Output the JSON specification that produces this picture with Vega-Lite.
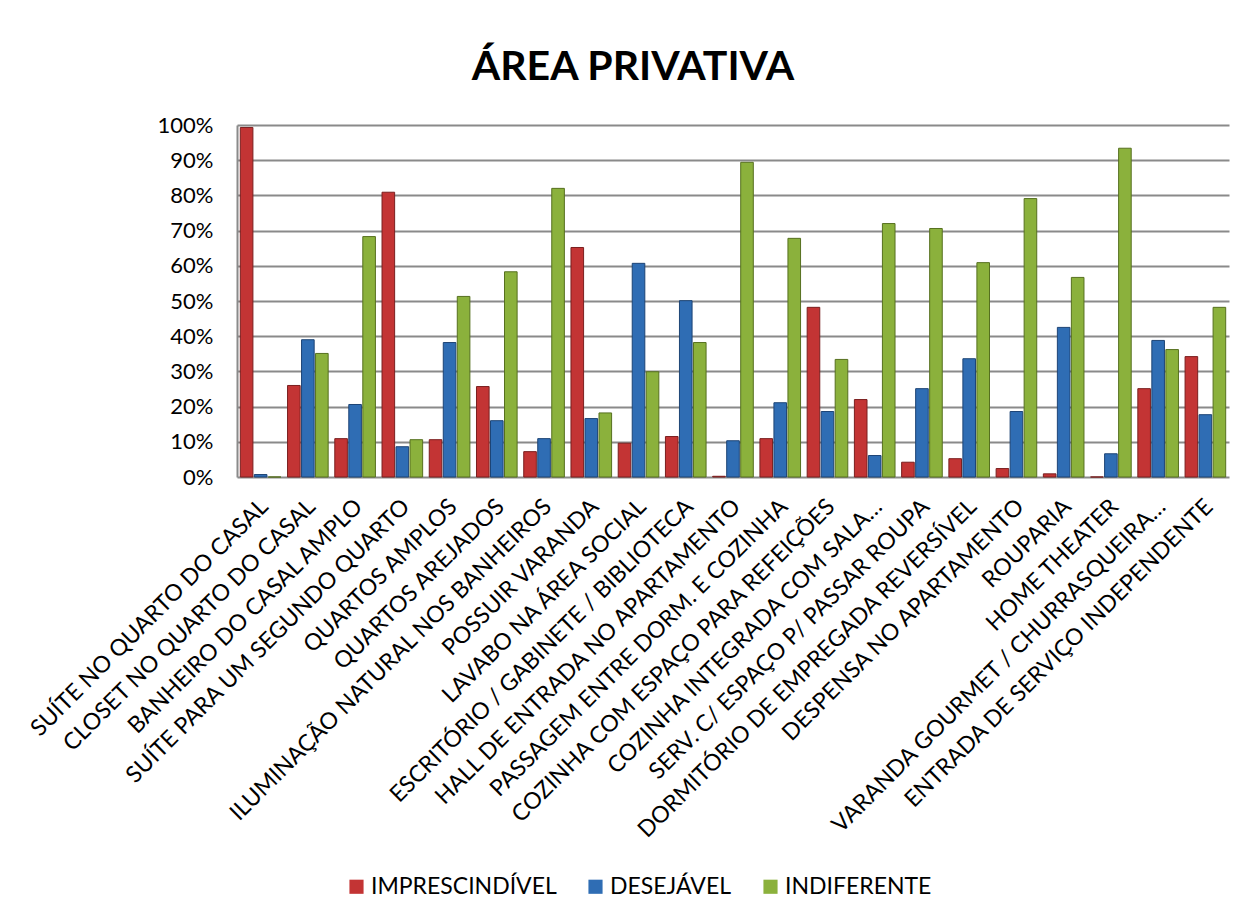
{
  "$schema": "https://vega.github.io/schema/vega-lite/v6.json",
  "autosize": {"type": "none"},
  "padding": {"left": 237, "top": 125, "right": 19, "bottom": 442},
  "width": 992,
  "height": 352,
  "background": "white",
  "title": {
    "text": "ÁREA PRIVATIVA",
    "font": "Lato",
    "fontSize": 41,
    "fontWeight": "bold",
    "color": "black",
    "anchor": "middle",
    "offset": 25,
    "dx": -100
  },
  "data": {
    "values": [
      {"item": "SUÍTE NO QUARTO DO CASAL", "serie": "IMPRESCINDÍVEL", "v": 0.993},
      {"item": "SUÍTE NO QUARTO DO CASAL", "serie": "DESEJÁVEL", "v": 0.007},
      {"item": "SUÍTE NO QUARTO DO CASAL", "serie": "INDIFERENTE", "v": 0.0},
      {"item": "CLOSET NO QUARTO DO CASAL", "serie": "IMPRESCINDÍVEL", "v": 0.26},
      {"item": "CLOSET NO QUARTO DO CASAL", "serie": "DESEJÁVEL", "v": 0.39},
      {"item": "CLOSET NO QUARTO DO CASAL", "serie": "INDIFERENTE", "v": 0.351},
      {"item": "BANHEIRO DO CASAL AMPLO", "serie": "IMPRESCINDÍVEL", "v": 0.109},
      {"item": "BANHEIRO DO CASAL AMPLO", "serie": "DESEJÁVEL", "v": 0.206},
      {"item": "BANHEIRO DO CASAL AMPLO", "serie": "INDIFERENTE", "v": 0.683},
      {"item": "SUÍTE PARA UM SEGUNDO QUARTO", "serie": "IMPRESCINDÍVEL", "v": 0.809},
      {"item": "SUÍTE PARA UM SEGUNDO QUARTO", "serie": "DESEJÁVEL", "v": 0.086},
      {"item": "SUÍTE PARA UM SEGUNDO QUARTO", "serie": "INDIFERENTE", "v": 0.106},
      {"item": "QUARTOS AMPLOS", "serie": "IMPRESCINDÍVEL", "v": 0.106},
      {"item": "QUARTOS AMPLOS", "serie": "DESEJÁVEL", "v": 0.382},
      {"item": "QUARTOS AMPLOS", "serie": "INDIFERENTE", "v": 0.513},
      {"item": "QUARTOS AREJADOS", "serie": "IMPRESCINDÍVEL", "v": 0.257},
      {"item": "QUARTOS AREJADOS", "serie": "DESEJÁVEL", "v": 0.16},
      {"item": "QUARTOS AREJADOS", "serie": "INDIFERENTE", "v": 0.583},
      {"item": "ILUMINAÇÃO NATURAL NOS BANHEIROS", "serie": "IMPRESCINDÍVEL", "v": 0.072},
      {"item": "ILUMINAÇÃO NATURAL NOS BANHEIROS", "serie": "DESEJÁVEL", "v": 0.109},
      {"item": "ILUMINAÇÃO NATURAL NOS BANHEIROS", "serie": "INDIFERENTE", "v": 0.82},
      {"item": "POSSUIR VARANDA", "serie": "IMPRESCINDÍVEL", "v": 0.652},
      {"item": "POSSUIR VARANDA", "serie": "DESEJÁVEL", "v": 0.166},
      {"item": "POSSUIR VARANDA", "serie": "INDIFERENTE", "v": 0.182},
      {"item": "LAVABO NA ÁREA SOCIAL", "serie": "IMPRESCINDÍVEL", "v": 0.096},
      {"item": "LAVABO NA ÁREA SOCIAL", "serie": "DESEJÁVEL", "v": 0.607},
      {"item": "LAVABO NA ÁREA SOCIAL", "serie": "INDIFERENTE", "v": 0.299},
      {"item": "ESCRITÓRIO / GABINETE / BIBLIOTECA", "serie": "IMPRESCINDÍVEL", "v": 0.115},
      {"item": "ESCRITÓRIO / GABINETE / BIBLIOTECA", "serie": "DESEJÁVEL", "v": 0.501},
      {"item": "ESCRITÓRIO / GABINETE / BIBLIOTECA", "serie": "INDIFERENTE", "v": 0.382},
      {"item": "HALL DE ENTRADA NO APARTAMENTO", "serie": "IMPRESCINDÍVEL", "v": 0.002},
      {"item": "HALL DE ENTRADA NO APARTAMENTO", "serie": "DESEJÁVEL", "v": 0.103},
      {"item": "HALL DE ENTRADA NO APARTAMENTO", "serie": "INDIFERENTE", "v": 0.894},
      {"item": "PASSAGEM ENTRE DORM. E COZINHA", "serie": "IMPRESCINDÍVEL", "v": 0.109},
      {"item": "PASSAGEM ENTRE DORM. E COZINHA", "serie": "DESEJÁVEL", "v": 0.211},
      {"item": "PASSAGEM ENTRE DORM. E COZINHA", "serie": "INDIFERENTE", "v": 0.678},
      {"item": "COZINHA COM ESPAÇO PARA REFEIÇÕES", "serie": "IMPRESCINDÍVEL", "v": 0.482},
      {"item": "COZINHA COM ESPAÇO PARA REFEIÇÕES", "serie": "DESEJÁVEL", "v": 0.186},
      {"item": "COZINHA COM ESPAÇO PARA REFEIÇÕES", "serie": "INDIFERENTE", "v": 0.334},
      {"item": "COZINHA INTEGRADA COM SALA…", "serie": "IMPRESCINDÍVEL", "v": 0.22},
      {"item": "COZINHA INTEGRADA COM SALA…", "serie": "DESEJÁVEL", "v": 0.061},
      {"item": "COZINHA INTEGRADA COM SALA…", "serie": "INDIFERENTE", "v": 0.72},
      {"item": "SERV. C/ ESPAÇO P/ PASSAR ROUPA", "serie": "IMPRESCINDÍVEL", "v": 0.042},
      {"item": "SERV. C/ ESPAÇO P/ PASSAR ROUPA", "serie": "DESEJÁVEL", "v": 0.251},
      {"item": "SERV. C/ ESPAÇO P/ PASSAR ROUPA", "serie": "INDIFERENTE", "v": 0.706},
      {"item": "DORMITÓRIO DE EMPREGADA REVERSÍVEL", "serie": "IMPRESCINDÍVEL", "v": 0.052},
      {"item": "DORMITÓRIO DE EMPREGADA REVERSÍVEL", "serie": "DESEJÁVEL", "v": 0.336},
      {"item": "DORMITÓRIO DE EMPREGADA REVERSÍVEL", "serie": "INDIFERENTE", "v": 0.609},
      {"item": "DESPENSA NO APARTAMENTO", "serie": "IMPRESCINDÍVEL", "v": 0.024},
      {"item": "DESPENSA NO APARTAMENTO", "serie": "DESEJÁVEL", "v": 0.186},
      {"item": "DESPENSA NO APARTAMENTO", "serie": "INDIFERENTE", "v": 0.791},
      {"item": "ROUPARIA", "serie": "IMPRESCINDÍVEL", "v": 0.009},
      {"item": "ROUPARIA", "serie": "DESEJÁVEL", "v": 0.425},
      {"item": "ROUPARIA", "serie": "INDIFERENTE", "v": 0.567},
      {"item": "HOME THEATER", "serie": "IMPRESCINDÍVEL", "v": 0.0},
      {"item": "HOME THEATER", "serie": "DESEJÁVEL", "v": 0.066},
      {"item": "HOME THEATER", "serie": "INDIFERENTE", "v": 0.934},
      {"item": "VARANDA GOURMET / CHURRASQUEIRA…", "serie": "IMPRESCINDÍVEL", "v": 0.251},
      {"item": "VARANDA GOURMET / CHURRASQUEIRA…", "serie": "DESEJÁVEL", "v": 0.388},
      {"item": "VARANDA GOURMET / CHURRASQUEIRA…", "serie": "INDIFERENTE", "v": 0.362},
      {"item": "ENTRADA DE SERVIÇO INDEPENDENTE", "serie": "IMPRESCINDÍVEL", "v": 0.342},
      {"item": "ENTRADA DE SERVIÇO INDEPENDENTE", "serie": "DESEJÁVEL", "v": 0.177},
      {"item": "ENTRADA DE SERVIÇO INDEPENDENTE", "serie": "INDIFERENTE", "v": 0.482}
    ]
  },
  "mark": {"type": "bar", "strokeWidth": 1},
  "encoding": {
    "x": {
      "field": "item",
      "type": "nominal",
      "sort": null,
      "title": null,
      "scale": {"paddingInner": 0.14, "paddingOuter": 0.07},
      "axis": {
        "labelAngle": -45,
        "labelFontSize": 23,
        "labelFont": "Lato",
        "labelColor": "black",
        "labelLimit": 700,
        "labelOverlap": false,
        "ticks": false,
        "domain": false,
        "labelPadding": 18,
        "labelOffset": -4
      }
    },
    "xOffset": {
      "field": "serie",
      "type": "nominal",
      "sort": ["IMPRESCINDÍVEL", "DESEJÁVEL", "INDIFERENTE"],
      "scale": {"paddingInner": 0.1}
    },
    "y": {
      "field": "v",
      "type": "quantitative",
      "title": null,
      "scale": {"domain": [0, 1], "nice": false},
      "axis": {
        "format": ".0%",
        "values": [0, 0.1, 0.2, 0.3, 0.4, 0.5, 0.6, 0.7, 0.8, 0.9, 1],
        "labelFontSize": 22,
        "labelFont": "Lato",
        "labelColor": "black",
        "ticks": false,
        "labelPadding": 24,
        "gridColor": "#8a8a8a",
        "gridWidth": 2,
        "gridOpacity": 1,
        "domainColor": "#8a8a8a",
        "domainWidth": 2
      }
    },
    "color": {
      "field": "serie",
      "type": "nominal",
      "title": null,
      "scale": {
        "domain": ["IMPRESCINDÍVEL", "DESEJÁVEL", "INDIFERENTE"],
        "range": ["#c33434", "#2f6db4", "#8bb13c"]
      },
      "legend": {
        "orient": "none",
        "direction": "horizontal",
        "legendX": 108,
        "legendY": 750,
        "symbolType": "square",
        "symbolSize": 200,
        "symbolStrokeWidth": 0,
        "labelFontSize": 23,
        "labelFont": "Lato",
        "labelColor": "black",
        "labelLimit": 400,
        "columnPadding": 27,
        "labelOffset": 3
      }
    },
    "stroke": {
      "field": "serie",
      "type": "nominal",
      "scale": {
        "domain": ["IMPRESCINDÍVEL", "DESEJÁVEL", "INDIFERENTE"],
        "range": ["#7a1f1f", "#1d4475", "#56701f"]
      },
      "legend": null
    }
  },
  "config": {
    "view": {"stroke": null}
  }
}
